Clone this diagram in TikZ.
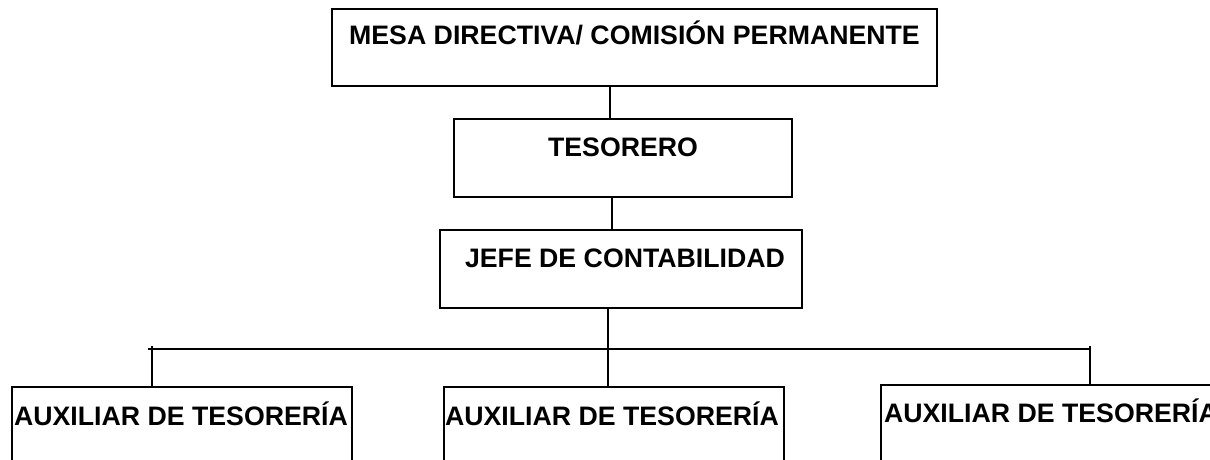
\documentclass[tikz,border=0pt]{standalone}
\usepackage{fontspec}
\setmainfont{Liberation Sans}
\begin{document}
\begin{tikzpicture}[x=1pt,y=-1pt,line width=1.8pt,
  box/.style={draw=black,inner sep=0pt,line width=1.8pt},
  lbl/.style={inner sep=0pt,font=\fontsize{26.7pt}{32pt}\selectfont\bfseries,anchor=base},
  conn/.style={draw=black,line width=1.8pt}]
\useasboundingbox (0,0) rectangle (1210,460);
\clip (0,0) rectangle (1210,460);
% boxes
\node[box,minimum width=605pt,minimum height=77pt] (mesa) at (634.5,47.5) {};
\node[box,minimum width=338pt,minimum height=78pt] (tes) at (623,158) {};
\node[box,minimum width=362pt,minimum height=78pt] (jefe) at (621,269) {};
\node[box,minimum width=340pt,minimum height=113pt] (aux1) at (182,443.5) {};
\node[box,minimum width=340pt,minimum height=113pt] (aux2) at (614,443.5) {};
\node[box,minimum width=340pt,minimum height=115pt] (aux3) at (1051,442.5) {};
% labels
\node[lbl] (mesaT) at (634.5,45) {MESA DIRECTIVA/ COMISIÓN PERMANENTE};
\node[lbl] (tesT) at (623,156) {TESORERO};
\node[lbl] (jefeT) at (625,267) {JEFE DE CONTABILIDAD};
\node[lbl] (aux1T) at (181,425) {AUXILIAR DE TESORERÍA};
\node[lbl] (aux2T) at (612,425) {AUXILIAR DE TESORERÍA};
\node[lbl] (aux3T) at (1051,422) {AUXILIAR DE TESORERÍA};
% connector helpers
\coordinate (v1) at (610,0);
\coordinate (v2) at (612,0);
\coordinate (v3) at (608,0);
\coordinate (busL) at (148,349);
\coordinate (busR) at (1090,349);
\coordinate (tickL) at (152,346);
\coordinate (tickR) at (1090,346);
% connectors
\draw[conn] (mesa.south -| v1) -- (tes.north -| v1);
\draw[conn] (tes.south -| v2) -- (jefe.north -| v2);
\draw[conn] (jefe.south -| v3) -- (v3 |- busL);
\draw[conn] (busL) -- (busR);
\draw[conn] (tickL) -- (aux1.north -| tickL);
\draw[conn] (v3 |- busL) -- (aux2.north -| v3);
\draw[conn] (tickR) -- (aux3.north -| tickR);
\end{tikzpicture}
\end{document}
